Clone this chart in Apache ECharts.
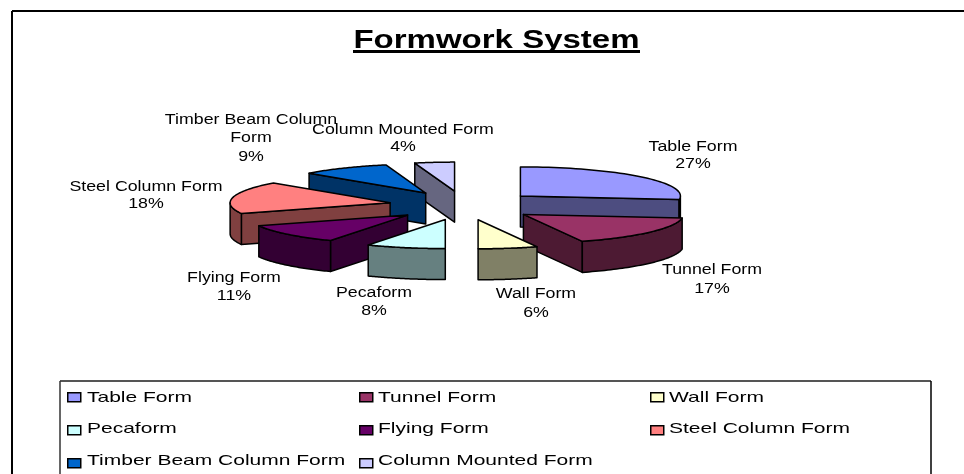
<!DOCTYPE html>
<html>
<head>
<meta charset="utf-8">
<style>html,body{margin:0;padding:0;background:#fff}#c{width:964px;height:474px}</style>
<script src="https://cdn.jsdelivr.net/npm/echarts@6/dist/echarts.min.js"></script>
</head>
<body>
<div id="c"></div>
<script>
// ---- data ----
const categories = ['Table Form','Tunnel Form','Wall Form','Pecaform','Flying Form','Steel Column Form','Timber Beam Column Form','Column Mounted Form'];
const shares = [27,17,6,8,11,18,9,4];
const title = 'Formwork System';
// ---- styles ----
const topColors = ['#9999FF','#993366','#FFFFCC','#CCFFFF','#660066','#FF8080','#0066CC','#CCCCFF'];
const sideColors = ['#4D4D80','#4D1A33','#808066','#668080','#330033','#804040','#003366','#666680'];
// ---- layout ----
const labelLines = [['Table Form'],['Tunnel Form'],['Wall Form'],['Pecaform'],['Flying Form'],['Steel Column Form'],['Timber Beam Column','Form'],['Column Mounted Form']];
const labelSpots = [[693,147,164],[712,270,289],[536,294,313],[374,293,311],[234,278,296],[146,187,204],[251,120,157],[403,130,147]];
const EXPLODE_X = 0.47, EXPLODE_Y = 0.5, DEPTH = 1.07;
const FONT = '"Liberation Sans", Arial, sans-serif';

// slice angles from the shares: start at north, clockwise
let acc = 0;
const slices = shares.map((v, i) => {
  const a0 = Math.PI / 2 - acc / 100 * 2 * Math.PI;
  acc += v;
  const a1 = Math.PI / 2 - acc / 100 * 2 * Math.PI;
  const mid = (a0 + a1) / 2;
  return {i, a0, a1, mid, ax: EXPLODE_X * Math.cos(mid), ay: EXPLODE_Y * Math.sin(mid)};
});
const drawOrder = slices.slice().sort((p, q) => Math.sin(q.mid) - Math.sin(p.mid));

function makeRender(s) {
  return function (params, api) {
    const P = (x, y) => api.coord([x, y]);
    const rim = (a, d) => P(s.ax + Math.cos(a), s.ay + Math.sin(a) - (d || 0));
    const stroke = {stroke: '#000', lineWidth: 1.5, lineJoin: 'round'};
    const poly = (pts, fill) => ({type: 'polygon', shape: {points: pts}, style: Object.assign({fill}, stroke)});
    const children = [];
    const side = sideColors[s.i], top = topColors[s.i];
    // radial walls that face the viewer
    const wall = a => poly([P(s.ax, s.ay), rim(a), rim(a, DEPTH), P(s.ax, s.ay - DEPTH)], side);
    if (Math.cos(s.a0) < -1e-6) children.push(wall(s.a0));
    if (Math.cos(s.a1) > 1e-6) children.push(wall(s.a1));
    // outer wall: the part of the arc facing the viewer
    const n = 48, up = [], down = [];
    for (let k = 0; k <= n; k++) {
      const a = s.a0 + (s.a1 - s.a0) * k / n;
      if (Math.sin(a) <= 1e-9) { up.push(rim(a)); down.unshift(rim(a, DEPTH)); }
    }
    if (up.length > 1) children.push(poly(up.concat(down), side));
    // top face
    const topPts = [P(s.ax, s.ay)];
    for (let k = 0; k <= n; k++) topPts.push(rim(s.a0 + (s.a1 - s.a0) * k / n));
    children.push(poly(topPts, top));
    return {type: 'group', children};
  };
}

const series = drawOrder.map(s => ({
  type: 'custom',
  name: categories[s.i],
  coordinateSystem: 'cartesian2d',
  data: [[0, 0, shares[s.i]]],
  itemStyle: {color: topColors[s.i]},
  renderItem: makeRender(s),
  silent: true,
  animation: false,
  clip: false
}));

const txt = (text, x, y, size, sx, align, weight) => ({
  type: 'text', x, y, scaleX: sx, silent: true, z: 50,
  style: {text, fill: '#000', align: align || 'center', verticalAlign: 'middle',
    font: (weight || 'normal') + ' ' + size + 'px ' + FONT}
});

const graphics = [
  {type:'line', silent:true, z:1, shape:{x1:12,y1:11,x2:964,y2:11}, style:{stroke:'#000',lineWidth:2}},
  {type:'line', silent:true, z:1, shape:{x1:12,y1:11,x2:12,y2:474}, style:{stroke:'#000',lineWidth:2}},
  {type:'line', silent:true, z:1, shape:{x1:60,y1:381,x2:931,y2:381}, style:{stroke:'#555',lineWidth:2}},
  {type:'line', silent:true, z:1, shape:{x1:60,y1:381,x2:60,y2:474}, style:{stroke:'#333',lineWidth:1.5}},
  {type:'line', silent:true, z:1, shape:{x1:931,y1:381,x2:931,y2:474}, style:{stroke:'#000',lineWidth:1.5}},
  txt(title, 496.5, 41, 25, 1.32, 'center', 'bold'),
  {type:'rect', silent:true, z:50, shape:{x:353,y:50,width:287,height:3}, style:{fill:'#000'}}
];
labelSpots.forEach((sp, i) => {
  const lines = labelLines[i];
  const [x, y0, yp] = sp;
  lines.forEach((l, k) => graphics.push(txt(l, x, y0 + k * 18, 14, 1.27)));
  graphics.push(txt(shares[i] + '%', x, yp, 14, 1.27));
});

// legend columns
const legendCols = [[0,3,6],[1,4,7],[2,5]];
const legendSwatchX = [67, 359, 650];
const legendTextX = [87, 378, 669];
const legendRowY = [398, 429, 461];
legendCols.forEach((col, c) => col.forEach((idx, r) => {
  graphics.push(txt(categories[idx], legendTextX[c], legendRowY[r], 15, 1.4, 'left'));
}));

const chart = echarts.init(document.getElementById('c'), null, {renderer: 'canvas'});
chart.setOption({
  animation: false,
  backgroundColor: '#fff',
  grid: {left: 304, top: 176.5, width: 320, height: 58, show: false},
  xAxis: {type: 'value', min: -1, max: 1, show: false},
  yAxis: {type: 'value', min: -1, max: 1, show: false},
  tooltip: {show: false},
  legend: legendCols.map((col, c) => ({
    orient: 'vertical',
    left: legendSwatchX[c],
    top: 392,
    padding: 0,
    itemWidth: 13,
    itemHeight: 9,
    itemGap: 22.5,
    icon: 'rect',
    selectedMode: false,
    formatter: () => '',
    itemStyle: {borderColor: '#000', borderWidth: 1.5},
    data: col.map(i => categories[i])
  })),
  graphic: graphics,
  series
});
</script>
</body>
</html>
